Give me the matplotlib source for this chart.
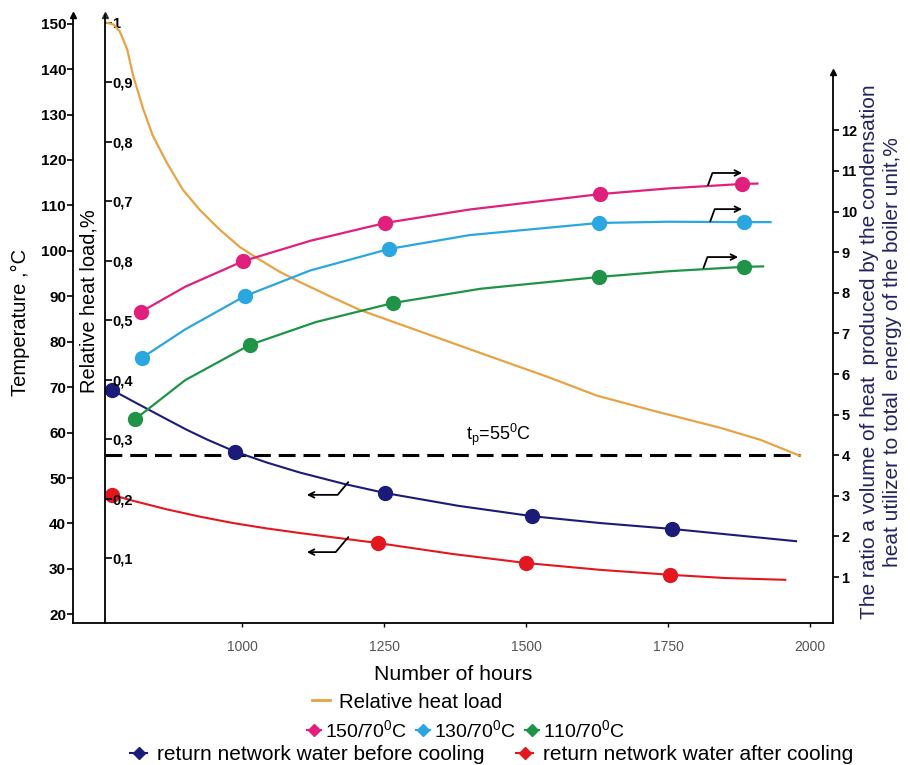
import matplotlib
matplotlib.use('Agg')
import matplotlib.pyplot as plt
from matplotlib.lines import Line2D

# --------------------------------------------------
# data
hours_heat = [762, 774, 785, 798, 808, 826, 843, 868, 896, 926, 961, 996,
              1032, 1067, 1102, 1155, 1208, 1331, 1419, 1537, 1625, 1727,
              1842, 1912, 1982]
rel_heat = [1.0, 0.997, 0.985, 0.955, 0.912, 0.855, 0.810, 0.764, 0.719,
            0.685, 0.652, 0.623, 0.601, 0.581, 0.564, 0.540, 0.517, 0.475,
            0.445, 0.405, 0.373, 0.347, 0.319, 0.299, 0.272]

# ratio curves (right axis, %)
h150_pts = [822, 1002, 1252, 1630, 1880]
v150_pts = [7.53, 8.78, 9.72, 10.43, 10.68]
h150_line = [822, 900, 1002, 1120, 1252, 1400, 1630, 1750, 1880, 1907]
v150_line = [7.53, 8.15, 8.78, 9.28, 9.72, 10.05, 10.43, 10.57, 10.68, 10.69]

h130_pts = [824, 1005, 1259, 1628, 1884]
v130_pts = [6.40, 7.92, 9.08, 9.72, 9.74]
h130_line = [824, 900, 1005, 1120, 1259, 1400, 1628, 1750, 1884, 1930]
v130_line = [6.40, 7.10, 7.92, 8.55, 9.08, 9.42, 9.72, 9.75, 9.74, 9.74]

h110_pts = [812, 1014, 1266, 1628, 1884]
v110_pts = [4.89, 6.72, 7.75, 8.39, 8.64]
h110_line = [812, 900, 1014, 1130, 1266, 1420, 1628, 1750, 1884, 1917]
v110_line = [4.89, 5.85, 6.72, 7.28, 7.75, 8.10, 8.39, 8.53, 8.64, 8.65]

# return network water temperature (left axis, C)
hb_pts = [771, 988, 1252, 1511, 1757]
tb_pts = [69.4, 55.7, 46.7, 41.6, 38.8]
hb_line = [771, 808, 838, 868, 903, 938, 988, 1044, 1102, 1180, 1252, 1380,
           1511, 1630, 1757, 1870, 1975]
tb_line = [69.4, 66.9, 64.9, 62.9, 60.6, 58.5, 55.8, 53.4, 51.2, 48.7, 46.7,
           43.9, 41.6, 40.1, 38.8, 37.4, 36.1]

ha_pts = [771, 1239, 1500, 1754]
ta_pts = [46.3, 35.7, 31.3, 28.7]
ha_line = [771, 808, 868, 926, 984, 1044, 1102, 1170, 1239, 1370, 1500, 1630,
           1754, 1850, 1956]
ta_line = [46.3, 45.0, 43.1, 41.5, 40.1, 38.9, 37.9, 36.8, 35.7, 33.3, 31.3,
           29.8, 28.7, 28.0, 27.6]

TP = 55
temp_ticks = list(range(20, 151, 10))
rel_ticks = [0.1, 0.2, 0.3, 0.4, 0.5, 0.6, 0.7, 0.8, 0.9, 1.0]
rel_labels = ['0,1', '0,2', '0,3', '0,4', '0,5', '0,8', '0,7', '0,8', '0,9', '1']
ratio_ticks = list(range(1, 13))
hour_ticks = [1000, 1250, 1500, 1750, 2000]

C_ORANGE = '#e9a245'
C_PINK = '#e0207c'
C_CYAN = '#2aa6e0'
C_GREEN = '#1f9448'
C_NAVY = '#1b1b7a'
C_RED = '#e4161e'

plt.rcParams['font.family'] = ['Liberation Sans', 'DejaVu Sans']
plt.rcParams['mathtext.fontset'] = 'custom'
plt.rcParams['mathtext.rm'] = 'Liberation Sans'
plt.rcParams['mathtext.it'] = 'Liberation Sans'

fig = plt.figure(figsize=(9.1, 7.65), dpi=100)
ax = fig.add_axes([73 / 910, 1 - 623 / 765, 760 / 910, 608 / 765])
ax.set_xlim(702.5, 2040)
ax.set_ylim(18.1, 151.9)

ax_r = ax.twinx()
ax_r.set_ylim(-0.009, 1.013)
ax3 = ax.twinx()
ax3.set_ylim(-0.13, 14.84)

# temperature axis
for s in ['top', 'right']:
    ax.spines[s].set_visible(False)
for s in ['left', 'bottom']:
    ax.spines[s].set_linewidth(1.3)
ax.set_yticks(temp_ticks)
ax.set_yticklabels([str(t) for t in temp_ticks], fontweight='bold', fontsize=11)
ax.set_xticks(hour_ticks)
ax.set_xticklabels([str(h) for h in hour_ticks], fontsize=10, color='#555555')
ax.tick_params(axis='y', direction='out', length=4, width=1.2, pad=1)
ax.tick_params(axis='x', direction='out', length=3, width=1, pad=9)
ax.set_xlabel('Number of hours', fontsize=15.3, labelpad=8)
ax.set_ylabel('Temperature ,°C', fontsize=14.5)
ax.yaxis.set_label_coords(-0.057, 0.495)

# relative heat load axis, drawn at the first hour
for s in ['top', 'left', 'bottom']:
    ax_r.spines[s].set_visible(False)
ax_r.spines['right'].set_position(('data', 759))
ax_r.spines['right'].set_linewidth(1.3)
ax_r.set_yticks(rel_ticks)
ax_r.set_yticklabels(rel_labels, fontweight='bold', fontsize=10.5)
ax_r.tick_params(axis='y', direction='out', length=5, width=1.2, pad=0)

# ratio axis
for s in ['top', 'left', 'bottom']:
    ax3.spines[s].set_visible(False)
ax3.spines['right'].set_linewidth(1.3)
ax3.spines['right'].set_bounds(-0.13, 13.44)
ax3.set_yticks(ratio_ticks)
ax3.set_yticklabels([str(t) for t in ratio_ticks], fontweight='bold', fontsize=10.5)
ax3.tick_params(axis='y', direction='out', length=4, width=1.2, pad=2)

# spine arrow tips
ax.plot(0, 1, marker='^', ms=4, color='k', transform=ax.transAxes, clip_on=False)
ax_r.plot(759, 1, marker='^', ms=4, color='#333333',
          transform=ax_r.get_xaxis_transform(), clip_on=False)
ax3.plot(1, 13.44, marker='^', ms=4, color='k',
         transform=ax3.get_yaxis_transform(), clip_on=False)

# curves
ax_r.plot(hours_heat, rel_heat, color=C_ORANGE, lw=1.6)

ax.hlines(TP, 759, hours_heat[-1], colors='k', lw=2.2,
          linestyles=(0, (5.5, 2.6)))
ax.text(1451, 59.5, 't$_p$=55$^0$C', fontsize=13, ha='center', va='center')

ax.plot(hb_line, tb_line, color=C_NAVY, lw=1.5)
ax.plot(hb_pts, tb_pts, 'o', color=C_NAVY, ms=10)
ax.plot(ha_line, ta_line, color=C_RED, lw=1.5)
ax.plot(ha_pts, ta_pts, 'o', color=C_RED, ms=10)

ax3.plot(h150_line, v150_line, color=C_PINK, lw=1.6)
ax3.plot(h150_pts, v150_pts, 'o', color=C_PINK, ms=10)
ax3.plot(h130_line, v130_line, color=C_CYAN, lw=1.6)
ax3.plot(h130_pts, v130_pts, 'o', color=C_CYAN, ms=10)
ax3.plot(h110_line, v110_line, color=C_GREEN, lw=1.6)
ax3.plot(h110_pts, v110_pts, 'o', color=C_GREEN, ms=10)

# hooked arrows telling which axis each group belongs to
arrow = dict(arrowstyle='->', color='k', lw=1.3, shrinkA=0, shrinkB=0,
             connectionstyle='angle,angleA=70,angleB=0,rad=0')
ax3.annotate('', xy=(1880, 10.95), xytext=(1820, 10.65), arrowprops=arrow)
ax3.annotate('', xy=(1880, 10.06), xytext=(1824, 9.76), arrowprops=arrow)
ax3.annotate('', xy=(1873, 8.88), xytext=(1812, 8.61), arrowprops=arrow)
arrow_l = dict(arrow, connectionstyle='angle,angleA=50,angleB=0,rad=0')
ax.annotate('', xy=(1114, 46.3), xytext=(1187, 49.1), arrowprops=arrow_l)
ax.annotate('', xy=(1114, 33.7), xytext=(1187, 37.0), arrowprops=arrow_l)

# other axis titles
fig.text(89 / 910, 1 - 301 / 765, 'Relative heat load,%', rotation=90,
         ha='center', va='center', fontsize=14.4)
fig.text(881 / 910, 1 - 352 / 765,
         'The ratio a volume of heat  produced by the condensation\n'
         'heat utilizer to total  energy of the boiler unit,%',
         rotation=90, ha='center', va='center', fontsize=15,
         color='#23235e', linespacing=1.3)

# legend rows
leg_kw = dict(frameon=False, borderaxespad=0, borderpad=0, loc='center')
h1 = [Line2D([], [], color=C_ORANGE, lw=2)]
fig.legend(h1, ['Relative heat load'], fontsize=14.7, handlelength=0.9,
           handletextpad=0.4, bbox_to_anchor=(407 / 910, 1 - 702 / 765),
           **leg_kw)
h2 = [Line2D([], [], color=c, marker='D', ms=6, lw=1.5)
      for c in (C_PINK, C_CYAN, C_GREEN)]
fig.legend(h2, ['150/70$^0$C', '130/70$^0$C', '110/70$^0$C'], ncol=3,
           fontsize=14, columnspacing=0.5, handlelength=0.7, handletextpad=0.2,
           bbox_to_anchor=(466 / 910, 1 - 730 / 765), **leg_kw)
h3 = [Line2D([], [], color=c, marker='D', ms=6, lw=1.5)
      for c in (C_NAVY, C_RED)]
fig.legend(h3, ['return network water before cooling',
                'return network water after cooling'], ncol=2,
           fontsize=15, columnspacing=1.5, handlelength=0.8, handletextpad=0.5,
           bbox_to_anchor=(492 / 910, 1 - 755 / 765), **leg_kw)

fig.savefig('out.png', dpi=100)
